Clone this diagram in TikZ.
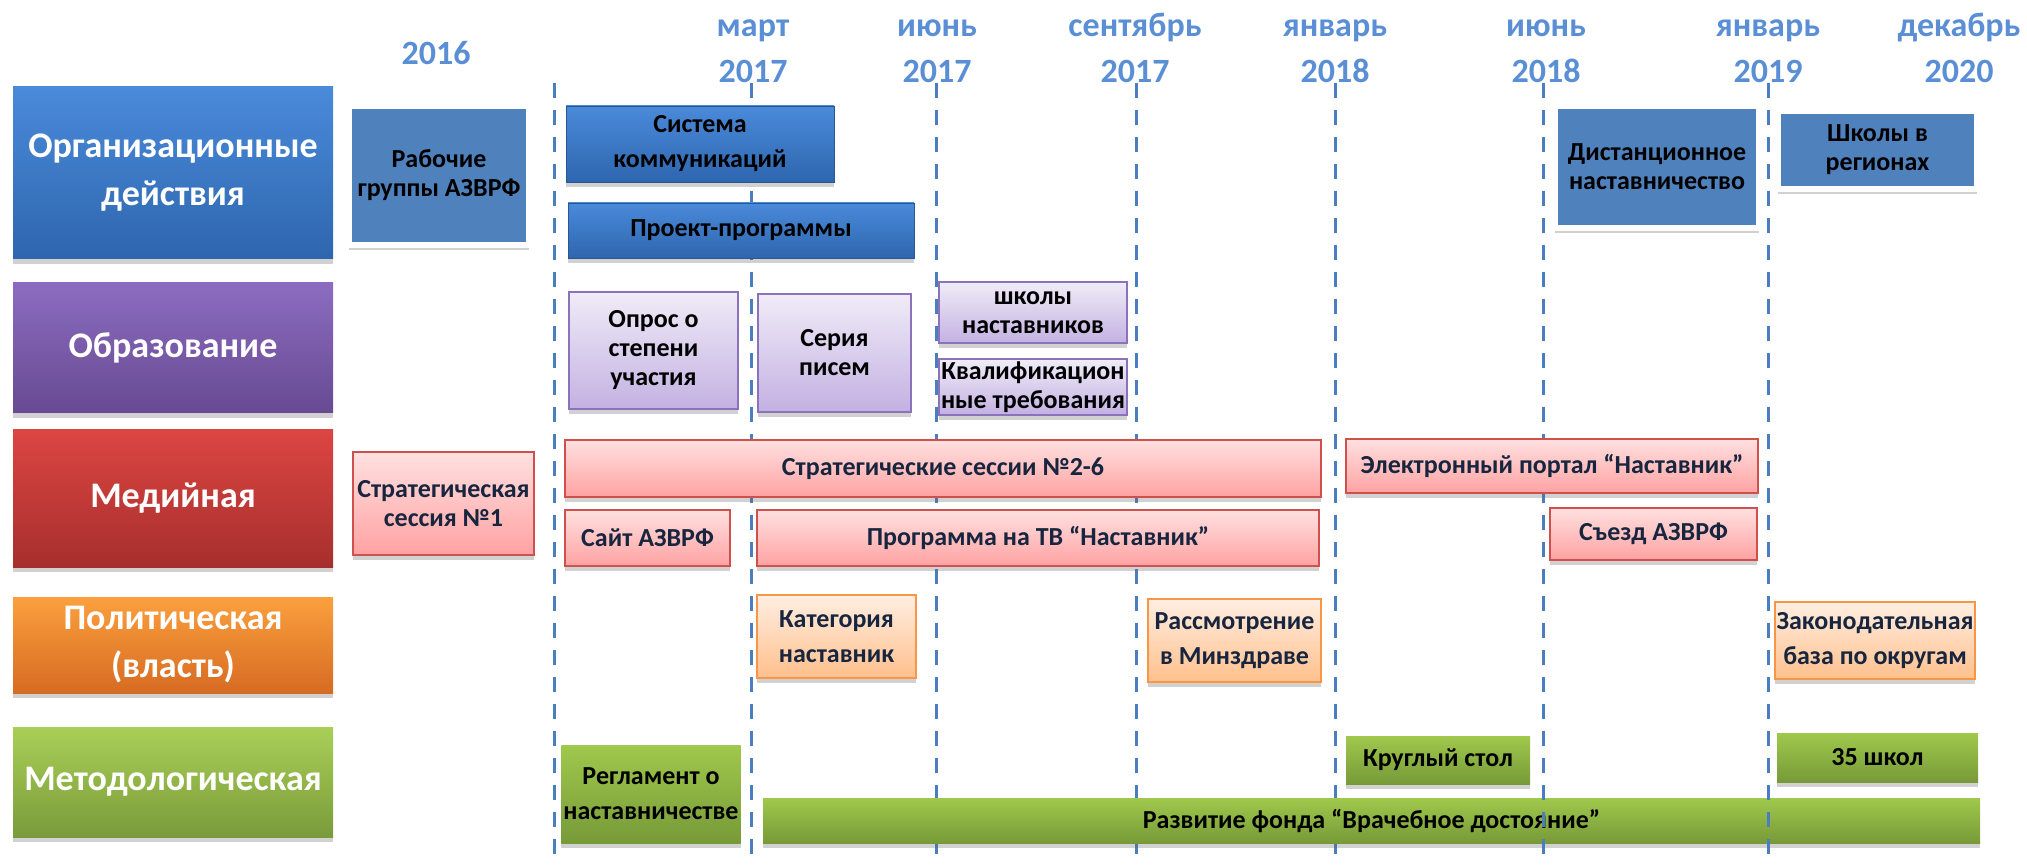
\documentclass[tikz,border=0pt]{standalone}
\usepackage{fontspec}
\setmainfont{Carlito}
\usetikzlibrary{shadows}
\definecolor{orgtop}{HTML}{4A8ADA}
\definecolor{orgbot}{HTML}{2E66AE}
\definecolor{edutop}{HTML}{8B6CC0}
\definecolor{edubot}{HTML}{674A92}
\definecolor{medtop}{HTML}{DC4542}
\definecolor{medbot}{HTML}{A62F2D}
\definecolor{poltop}{HTML}{FBA03E}
\definecolor{polbot}{HTML}{D66B22}
\definecolor{mettop}{HTML}{AACF58}
\definecolor{metbot}{HTML}{7A9B3A}
\definecolor{flatblue}{HTML}{4F81BD}
\definecolor{lilactop}{HTML}{F0ECF7}
\definecolor{lilacbot}{HTML}{C3B1E2}
\definecolor{lilacline}{HTML}{8C72BA}
\definecolor{pinktop}{HTML}{FFE0E0}
\definecolor{pinkbot}{HTML}{FFA2A2}
\definecolor{pinkline}{HTML}{CF504D}
\definecolor{peachtop}{HTML}{FFEEE2}
\definecolor{peachbot}{HTML}{FFC08C}
\definecolor{peachline}{HTML}{F79646}
\definecolor{greentop}{HTML}{A0C84C}
\definecolor{greenbot}{HTML}{779A38}
\definecolor{navytext}{HTML}{17253F}
\definecolor{monthblue}{HTML}{5A8FD6}
\definecolor{guideblue}{HTML}{4A7EBF}
\tikzset{
  softshadow/.style={
    drop shadow={shadow xshift=0pt, shadow yshift=-2.5pt, opacity=0.3, fill=black!60}
  },
  lane/.style={
    rectangle,
    align=center,
    text=white,
    minimum width=160pt,
    inner sep=2pt,
    font=\fontsize{18}{24}\selectfont\bfseries,
    softshadow
  },
  task/.style={
    rectangle,
    align=center,
    inner sep=1pt,
    font=\fontsize{13}{14.5}\selectfont\bfseries,
    softshadow
  },
  loose/.style={font=\fontsize{13}{17.5}\selectfont\bfseries},
  bluetask/.style={task, top color=orgtop, bottom color=orgbot, draw=orgbot!85!black, text=black},
  framed/.style={task, fill=flatblue, draw=white, line width=3pt, text=black},
  lilac/.style={task, top color=lilactop, bottom color=lilacbot, draw=lilacline, line width=0.8pt, text=black},
  pinkbox/.style={task, top color=pinktop, bottom color=pinkbot, draw=pinkline, line width=0.8pt, text=navytext},
  peach/.style={task, top color=peachtop, bottom color=peachbot, draw=peachline, line width=0.8pt, text=navytext},
  greenbox/.style={task, top color=greentop, bottom color=greenbot, draw=none, text=black},
  month/.style={align=center, text=monthblue, font=\fontsize{17}{23}\selectfont\bfseries},
  guide/.style={draw=guideblue, line width=1.5pt, dash pattern=on 7.5pt off 6pt}
}
\begin{document}
\begin{tikzpicture}[x=0.5pt, y=-0.5pt]
  \useasboundingbox (0,0) rectangle (2027,865);

  % time scale
  \node[month] (y16) at (436,55) {\strut 2016};
  \node[month] (mar17) at (753,50) {\strut март\\\strut 2017};
  \node[month] (jun17) at (937,50) {\strut июнь\\\strut 2017};
  \node[month] (sep17) at (1135,50) {\strut сентябрь\\\strut 2017};
  \node[month] (jan18) at (1335,50) {\strut январь\\\strut 2018};
  \node[month] (jun18) at (1546,50) {\strut июнь\\\strut 2018};
  \node[month] (jan19) at (1768,50) {\strut январь\\\strut 2019};
  \node[month] (dec20) at (1959,50) {\strut декабрь\\\strut 2020};

  \foreach \x in {554,751,936,1136,1335}
    \draw[guide] (\x,83) -- (\x,865);
  \node[greenbox, minimum width=608.5pt, minimum height=22.5pt] (fund) at (1371.5,820.5)
    {Развитие фонда “Врачебное достояние”};
  \foreach \x in {1543,1768}
    \draw[guide] (\x,83) -- (\x,865);

  % lanes
  \node[lane, top color=orgtop, bottom color=orgbot, minimum height=86pt] (org) at (173,173)
    {Организационные\\действия};
  \node[lane, top color=edutop, bottom color=edubot, minimum height=65pt] (edu) at (173,348)
    {Образование};
  \node[lane, top color=medtop, bottom color=medbot, minimum height=68.5pt] (med) at (173,498.5)
    {Медийная};
  \node[lane, top color=poltop, bottom color=polbot, minimum height=48pt] (pol) at (173,645)
    {Политическая\\(власть)};
  \node[lane, top color=mettop, bottom color=metbot, minimum height=55pt] (met) at (173,782)
    {Методологическая};

  % organisational
  \node[framed, minimum width=90pt, minimum height=69.5pt] (groups) at (439,175.5)
    {Рабочие\\группы АЗВРФ};
  \node[bluetask, loose, minimum width=134pt, minimum height=38pt] (comms) at (700,144)
    {Система\\коммуникаций};
  \node[bluetask, minimum width=173pt, minimum height=27.5pt] (projects) at (741,230.5)
    {Проект-программы};
  \node[framed, minimum width=102pt, minimum height=61pt] (remote) at (1657,167)
    {Дистанционное\\наставничество};
  \node[framed, minimum width=99.5pt, minimum height=39pt] (regions) at (1877.5,150)
    {Школы в\\регионах};

  % education
  \node[lilac, minimum width=84.5pt, minimum height=58.5pt] (survey) at (653.5,350.5)
    {Опрос о\\степени\\участия};
  \node[lilac, minimum width=76.5pt, minimum height=59pt] (letters) at (834.5,353)
    {Серия\\писем};
  \node[lilac, minimum width=94pt, minimum height=30.5pt] (schools) at (1033,312.5)
    {школы\\наставников};
  \node[lilac, minimum width=94pt, minimum height=28pt, inner sep=0pt] (qualif) at (1033,387)
    {Квалификацион\\ные требования};

  % media
  \node[pinkbox, minimum width=90.5pt, minimum height=51.5pt] (sess1) at (443.5,503.5)
    {Стратегическая\\сессия №1};
  \node[pinkbox, minimum width=378pt, minimum height=28.5pt] (sessions) at (943,468.5)
    {Стратегические сессии №2-6};
  \node[pinkbox, minimum width=206pt, minimum height=27pt] (portal) at (1552,466)
    {Электронный портал “Наставник”};
  \node[pinkbox, minimum width=82.5pt, minimum height=28pt] (site) at (647.5,538)
    {Сайт АЗВРФ};
  \node[pinkbox, minimum width=281pt, minimum height=28pt] (tv) at (1038,538)
    {Программа на ТВ “Наставник”};
  \node[pinkbox, minimum width=103.5pt, minimum height=26pt] (congress) at (1653.5,534)
    {Съезд АЗВРФ};

  % political
  \node[peach, loose, minimum width=79.5pt, minimum height=41.5pt] (category) at (836.5,636.5)
    {Категория\\наставник};
  \node[peach, loose, minimum width=86.5pt, minimum height=41.5pt] (ministry) at (1234.5,640.5)
    {Рассмотрение\\в Минздраве};
  \node[peach, loose, minimum width=100pt, minimum height=38.5pt, inner sep=0pt] (law) at (1875,640.5)
    {Законодательная\\база по округам};

  % methodological
  \node[greenbox, loose, minimum width=86pt, minimum height=49pt] (rules) at (651,794)
    {Регламент о\\наставничестве};
  \node[greenbox, minimum width=92pt, minimum height=24pt] (table) at (1438,760)
    {Круглый стол};
  \node[greenbox, minimum width=100.5pt, minimum height=24.5pt] (school35) at (1877.5,757.5)
    {35 школ};
\end{tikzpicture}
\end{document}
